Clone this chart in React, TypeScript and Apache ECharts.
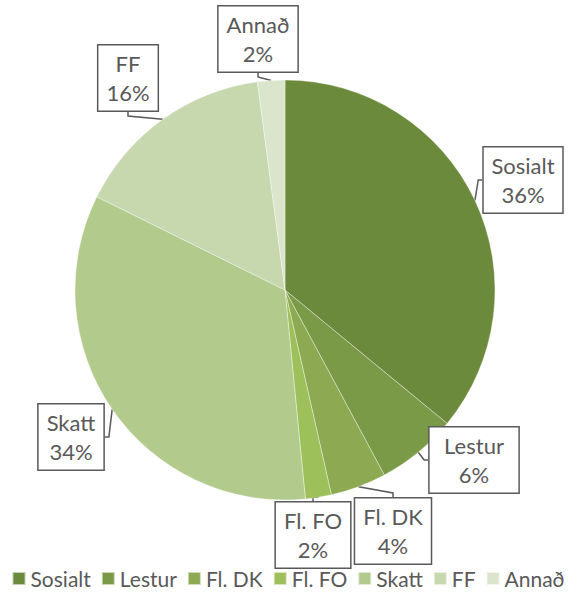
import React, { useEffect, useRef } from "react";
import * as echarts from "echarts";

const categories = ["Sosialt", "Lestur", "Fl. DK", "Fl. FO", "Skatt", "FF", "Annað"];
const values = [36.0, 6.2, 4.3, 2.0, 33.9, 15.6, 2.1];
const colors = ["#6c8a3c", "#7b9a48", "#8daa52", "#9dc05a", "#b2cb8d", "#c7d7ae", "#dbe5cb"];
// label box centres (layout only)
const labelCenters: [number, number][] = [
  [523, 180],
  [474, 460],
  [393, 531],
  [313, 535],
  [71, 437],
  [128, 78],
  [258, 39],
];

const FONT = "Lato";
const GREY = "#595959";

export default function App() {
  const ref = useRef<HTMLDivElement>(null);
  useEffect(() => {
    if (!ref.current) return;
    const chart = echarts.init(ref.current, null, { renderer: "svg" });
    const data = categories.map((name, i) => ({
      name,
      value: values[i],
      itemStyle: { color: colors[i] },
    }));
    chart.setOption({
      animation: false,
      backgroundColor: "#ffffff",
      legend: {
        data: categories,
        bottom: 2,
        left: "center",
        icon: "rect",
        itemWidth: 13,
        itemHeight: 13,
        itemGap: 10,
        textStyle: { fontFamily: FONT, fontSize: 21, color: GREY },
      },
      series: [
        {
          type: "pie",
          center: [285, 290],
          radius: 210,
          startAngle: 90,
          clockwise: true,
          data,
          itemStyle: { borderColor: "rgba(255,255,255,0.6)", borderWidth: 0.6 },
          emphasis: { disabled: true },
          label: {
            show: true,
            position: "outside",
            alignTo: "none",
            overflow: "none",
            formatter: (p: any) => `${p.name}\n${Math.round(p.percent)}%`,
            fontFamily: FONT,
            fontSize: 22,
            lineHeight: 29,
            color: GREY,
            align: "center",
            backgroundColor: "#ffffff",
            borderColor: GREY,
            borderWidth: 1.5,
            padding: [4, 8, 3, 8],
          },
          labelLine: {
            show: true,
            length: 4,
            length2: 4,
            lineStyle: { color: GREY, width: 1.5 },
          },
          labelLayout: (params: any) => {
            const c = labelCenters[params.dataIndex];
            return {
              x: c[0],
              y: c[1],
              align: "center",
              verticalAlign: "middle",
            };
          },
        },
      ],
    });
    return () => chart.dispose();
  }, []);
  return (
    <div
      ref={ref}
      style={{ position: "fixed", left: 0, top: 0, width: 576, height: 596 }}
    />
  );
}
